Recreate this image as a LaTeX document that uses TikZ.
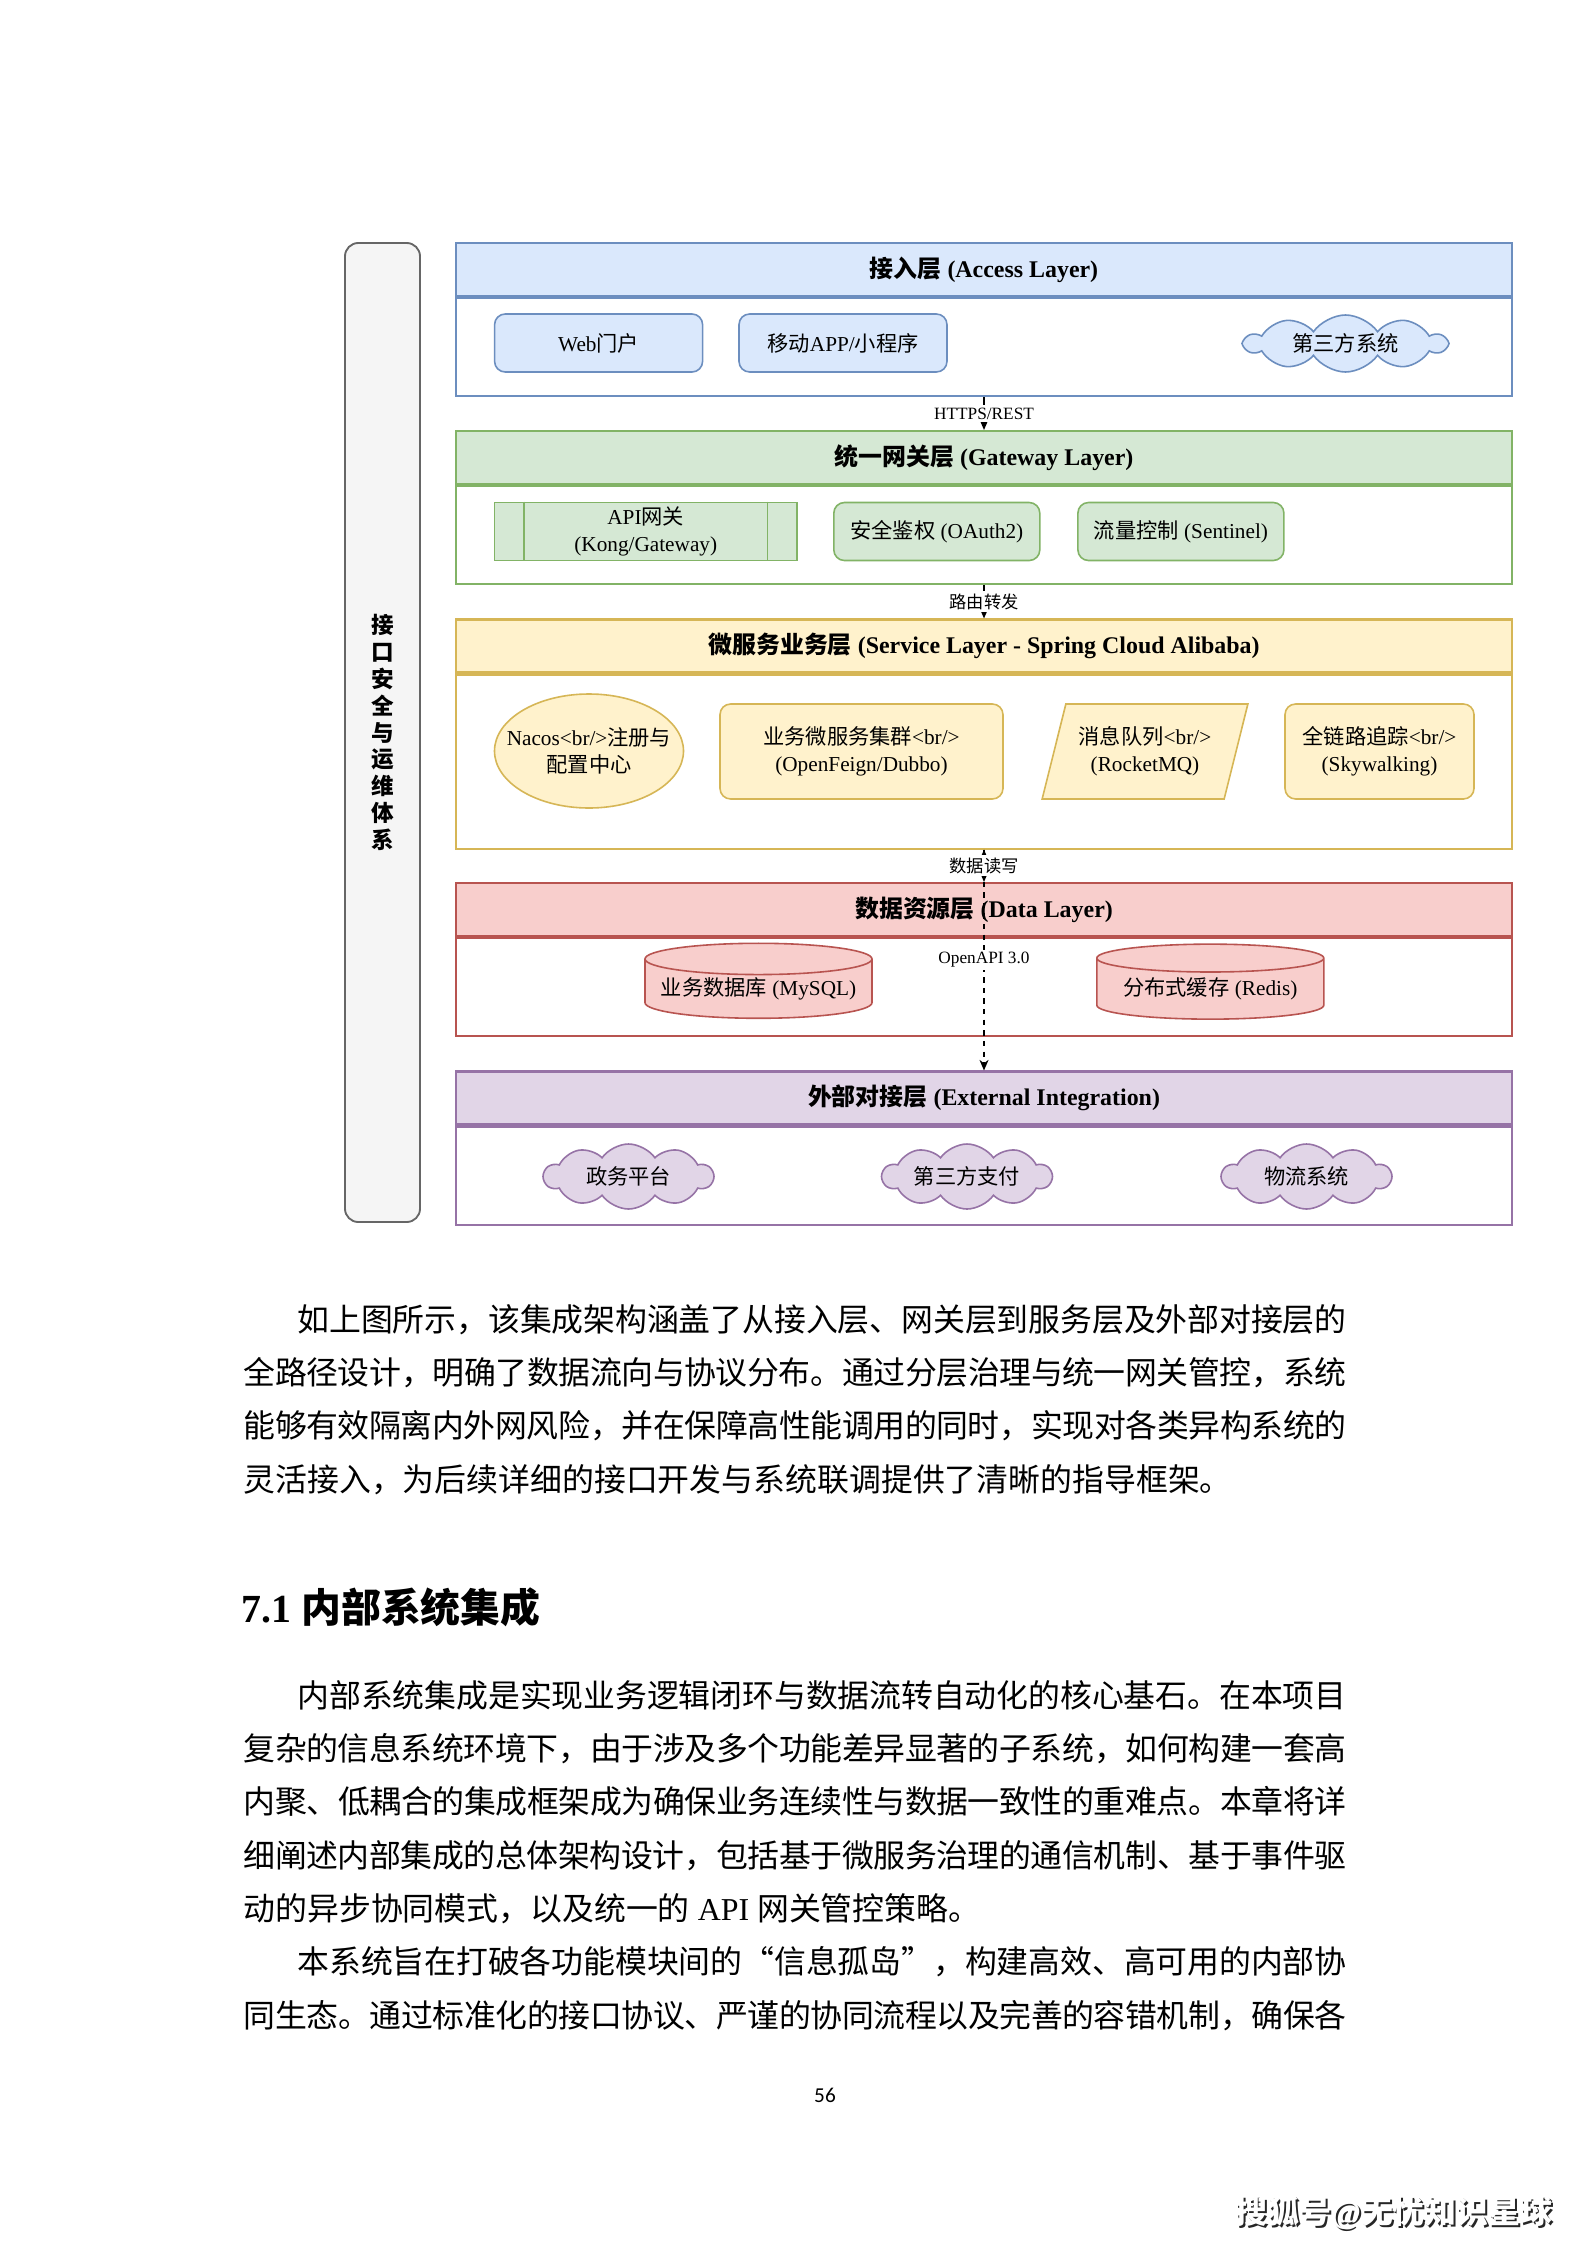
\documentclass[tikz,border=0pt]{standalone}
\usepackage{fontspec}
\setmainfont{Liberation Serif}
\newfontfamily\cjkfont{Noto Sans CJK SC}
\newfontfamily\pagenofont{Carlito}
\usetikzlibrary{arrows.meta,positioning,shapes.geometric,shapes.symbols}

\definecolor{accessfill}{HTML}{DAE8FC}
\definecolor{accessline}{HTML}{6C8EBF}
\definecolor{gatewayfill}{HTML}{D5E8D4}
\definecolor{gatewayline}{HTML}{82B366}
\definecolor{servicefill}{HTML}{FFF2CC}
\definecolor{serviceline}{HTML}{D6B656}
\definecolor{datafill}{HTML}{F8CECC}
\definecolor{dataline}{HTML}{B85450}
\definecolor{externalfill}{HTML}{E1D5E7}
\definecolor{externalline}{HTML}{9673A6}
\definecolor{sidefill}{HTML}{F5F5F5}
\definecolor{sideline}{HTML}{666666}

% CJK characters go to the CJK face, everything else stays in Liberation Serif
\XeTeXinterchartokenstate=1
\newXeTeXintercharclass\cjkclass
\newcommand\setcjkrange[2]{%
  \count255=#1\relax
  \loop
    \XeTeXcharclass\count255=\cjkclass
    \advance\count255 by 1
  \ifnum\count255<#2\relax\repeat}
\setcjkrange{"3000}{"3040}
\setcjkrange{"4E00}{"A000}
\setcjkrange{"FF00}{"FFF0}
\XeTeXcharclass"201C=\cjkclass
\XeTeXcharclass"201D=\cjkclass
\XeTeXinterchartoks 0 \cjkclass={\cjkfont}
\XeTeXinterchartoks 4095 \cjkclass={\cjkfont}
\XeTeXinterchartoks \cjkclass 0={\rmfamily}
\XeTeXinterchartoks \cjkclass 4095={\rmfamily}
\XeTeXlinebreaklocale "zh"
\XeTeXlinebreakskip=0pt plus 1pt minus 0.5pt

\newlength\pxu
\setlength\pxu{0.013233cm}

\tikzset{
    layerhead/.style={
        draw=#1line,
        fill=#1fill,
        line width=0.8pt,
        minimum width=1056\pxu,
        minimum height=53\pxu,
        inner sep=0pt,
        font=\fontsize{9}{11}\selectfont\bfseries
    },
    layerbody/.style={
        draw=#1line,
        fill=white,
        line width=0.8pt,
        minimum width=1056\pxu,
        inner sep=0pt
    },
    roundbox/.style={
        draw=#1line,
        fill=#1fill,
        line width=0.6pt,
        rounded corners=4pt,
        minimum height=58\pxu,
        inner sep=1pt,
        align=center,
        font=\fontsize{8}{10}\selectfont
    },
    processbox/.style={
        roundbox=#1,
        sharp corners
    },
    cloudbox/.style={
        cloud,
        cloud puffs=10,
        cloud puff arc=110,
        cloud ignores aspect,
        draw=#1line,
        fill=#1fill,
        line width=0.6pt,
        inner sep=0pt,
        font=\fontsize{8}{10}\selectfont
    },
    ellipsebox/.style={
        ellipse,
        draw=#1line,
        fill=#1fill,
        line width=0.6pt,
        inner ysep=0pt,
        inner xsep=-7.5pt,
        align=center,
        font=\fontsize{8}{10}\selectfont
    },
    slantbox/.style={
        trapezium,
        trapezium left angle=68,
        trapezium right angle=112,
        trapezium stretches=true,
        draw=#1line,
        fill=#1fill,
        line width=0.6pt,
        inner sep=0pt,
        align=center,
        font=\fontsize{8}{10}\selectfont
    },
    dbbox/.style={
        cylinder,
        shape border rotate=90,
        aspect=0.16,
        draw=#1line,
        fill=#1fill,
        line width=0.6pt,
        inner sep=0pt,
        font=\fontsize{8}{10}\selectfont
    },
    sidebar/.style={
        draw=sideline,
        fill=sidefill,
        line width=0.7pt,
        rounded corners=5pt,
        minimum width=75\pxu,
        minimum height=979\pxu,
        align=center,
        font=\fontsize{8.5}{10.1}\selectfont\bfseries
    },
    layerarrow/.style={
        -{Stealth[length=1.4mm,width=1.2mm]},
        line width=0.5pt
    },
    openapiarrow/.style={
        layerarrow,
        dash pattern=on 2pt off 2pt
    },
    flowlabel/.style={
        fill=white,
        inner sep=1pt,
        font=\fontsize{6.5}{7.5}\selectfont
    },
    bodyline/.style={
        anchor=base west,
        inner sep=0pt,
        font=\fontsize{12}{14}\selectfont
    },
    fullline/.style={
        bodyline,
        text width=#1\pxu,
        execute at begin node={\parindent=0pt\parfillskip=0pt\relax}
    }
}

\begin{document}
\begin{tikzpicture}[x=0.013233cm, y=-0.013233cm]
    \path[fill=white, use as bounding box] (0,0) rectangle (1587,2245);

    % side column
    \node[sidebar] (opsBar) at (382.5,732.5)
        {接\\口\\安\\全\\与\\运\\维\\体\\系};

    % access layer
    \node[layerhead=access] (accessHead) at (984,269.5) {接入层 (Access Layer)};
    \node[layerbody=access, minimum height=98\pxu, below=0pt of accessHead] (accessBody) {};
    \node[roundbox=access, minimum width=208\pxu] (webPortal) at (598.6,343) {Web门户};
    \node[roundbox=access, minimum width=208\pxu] (mobileApp) at (843,343) {移动APP/小程序};
    \node[cloudbox=access, minimum width=201\pxu, minimum height=57\pxu] (thirdSystem)
        at (1345.5,343.5) {第三方系统};

    % gateway layer
    \node[layerhead=gateway] (gatewayHead) at (984,457.5) {统一网关层 (Gateway Layer)};
    \node[layerbody=gateway, minimum height=98\pxu, below=0pt of gatewayHead] (gatewayBody) {};
    \node[processbox=gateway, minimum width=302.5\pxu] (apiGateway) at (645.75,531.5)
        {API网关\\(Kong/Gateway)};
    \draw[draw=gatewayline, line width=0.6pt]
        ([xshift=30.5\pxu]apiGateway.north west) -- ([xshift=30.5\pxu]apiGateway.south west);
    \draw[draw=gatewayline, line width=0.6pt]
        ([xshift=-30.5\pxu]apiGateway.north east) -- ([xshift=-30.5\pxu]apiGateway.south east);
    \node[roundbox=gateway, minimum width=206\pxu] (authNode) at (936.8,531.5) {安全鉴权 (OAuth2)};
    \node[roundbox=gateway, minimum width=206\pxu] (flowControl) at (1180.9,531.5) {流量控制 (Sentinel)};

    % service layer
    \node[layerhead=service] (serviceHead) at (984,646)
        {微服务业务层 (Service Layer - Spring Cloud Alibaba)};
    \node[layerbody=service, minimum height=174\pxu, below=0pt of serviceHead] (serviceBody) {};
    \node[ellipsebox=service, minimum width=189\pxu, minimum height=114\pxu] (nacosCenter)
        at (589,751) {Nacos<br/>注册与\\配置中心};
    \node[roundbox=service, minimum width=283\pxu, minimum height=95\pxu] (bizCluster)
        at (861.5,751.5) {业务微服务集群<br/>\\(OpenFeign/Dubbo)};
    \node[slantbox=service, minimum width=206\pxu, minimum height=95\pxu] (mqNode)
        at (1145,751.5) {消息队列<br/>\\(RocketMQ)};
    \node[roundbox=service, minimum width=189\pxu, minimum height=95\pxu] (traceNode)
        at (1379.5,751.5) {全链路追踪<br/>\\(Skywalking)};

    % data layer
    \node[layerhead=data] (dataHead) at (984,909.5) {数据资源层 (Data Layer)};
    \node[layerbody=data, minimum height=98\pxu, below=0pt of dataHead] (dataBody) {};
    \node[dbbox=data, minimum width=227\pxu, minimum height=75\pxu] (mysqlDb)
        at (758.5,989) {业务数据库 (MySQL)};
    \node[dbbox=data, minimum width=227\pxu, minimum height=75\pxu] (redisCache)
        at (1210.3,989) {分布式缓存 (Redis)};

    % external layer
    \node[layerhead=external] (externalHead) at (984,1098) {外部对接层 (External Integration)};
    \node[layerbody=external, minimum height=98\pxu, below=0pt of externalHead] (externalBody) {};
    \node[cloudbox=external, minimum width=169\pxu, minimum height=65\pxu] (govPlatform)
        at (628.5,1176.5) {政务平台};
    \node[cloudbox=external, minimum width=169\pxu, minimum height=65\pxu] (payPlatform)
        at (967,1176.5) {第三方支付};
    \node[cloudbox=external, minimum width=169\pxu, minimum height=65\pxu] (logisticsSystem)
        at (1306.5,1176.5) {物流系统};

    % layer links
    \draw[layerarrow] (accessBody.south) --
        node[flowlabel]{HTTPS/REST} (gatewayHead.north);
    \draw[layerarrow] (gatewayBody.south) --
        node[flowlabel]{路由转发} (serviceHead.north);
    \draw[openapiarrow] (serviceBody.south) --
        node[flowlabel]{OpenAPI 3.0} (externalHead.north);
    \draw[layerarrow, {Stealth[length=1.4mm,width=1.2mm]}-{Stealth[length=1.4mm,width=1.2mm]}]
        (serviceBody.south) -- node[flowlabel]{数据读写} (dataHead.north);

    % page text
    \node[fullline=1049] (introA) at (297,1331)
        {如上图所示，该集成架构涵盖了从接入层、网关层到服务层及外部对接层的};
    \node[fullline=1103] (introB) at (243,1384.5)
        {全路径设计，明确了数据流向与协议分布。通过分层治理与统一网关管控，系统};
    \node[fullline=1103] (introC) at (243,1437.5)
        {能够有效隔离内外网风险，并在保障高性能调用的同时，实现对各类异构系统的};
    \node[bodyline] (introD) at (243,1491)
        {灵活接入，为后续详细的接口开发与系统联调提供了清晰的指导框架。};

    \node[bodyline, font=\fontsize{15}{18}\selectfont\bfseries] (sectionTitle) at (241,1622)
        {7.1 内部系统集成};

    \node[fullline=1049] (innerA) at (297,1707)
        {内部系统集成是实现业务逻辑闭环与数据流转自动化的核心基石。在本项目};
    \node[fullline=1103] (innerB) at (243,1760)
        {复杂的信息系统环境下，由于涉及多个功能差异显著的子系统，如何构建一套高};
    \node[fullline=1103] (innerC) at (243,1813.5)
        {内聚、低耦合的集成框架成为确保业务连续性与数据一致性的重难点。本章将详};
    \node[fullline=1103] (innerD) at (243,1867)
        {细阐述内部集成的总体架构设计，包括基于微服务治理的通信机制、基于事件驱};
    \node[bodyline] (innerE) at (243,1920)
        {动的异步协同模式，以及统一的 API 网关管控策略。};
    \node[fullline=1049] (goalA) at (297,1973.5)
        {本系统旨在打破各功能模块间的“信息孤岛”，构建高效、高可用的内部协};
    \node[fullline=1103] (goalB) at (243,2027)
        {同生态。通过标准化的接口协议、严谨的协同流程以及完善的容错机制，确保各};

    \node[font=\pagenofont\fontsize{8}{10}\selectfont] (pageNumber) at (825,2095) {56};

    \node[font=\fontsize{12}{14}\selectfont\bfseries, text=black!85] (signShadow)
        at (1396,2215) {搜狐号@无忧知识星球};
    \node[font=\fontsize{12}{14}\selectfont\bfseries, text=white] (signText)
        at (1394,2213) {搜狐号@无忧知识星球};
\end{tikzpicture}
\end{document}
